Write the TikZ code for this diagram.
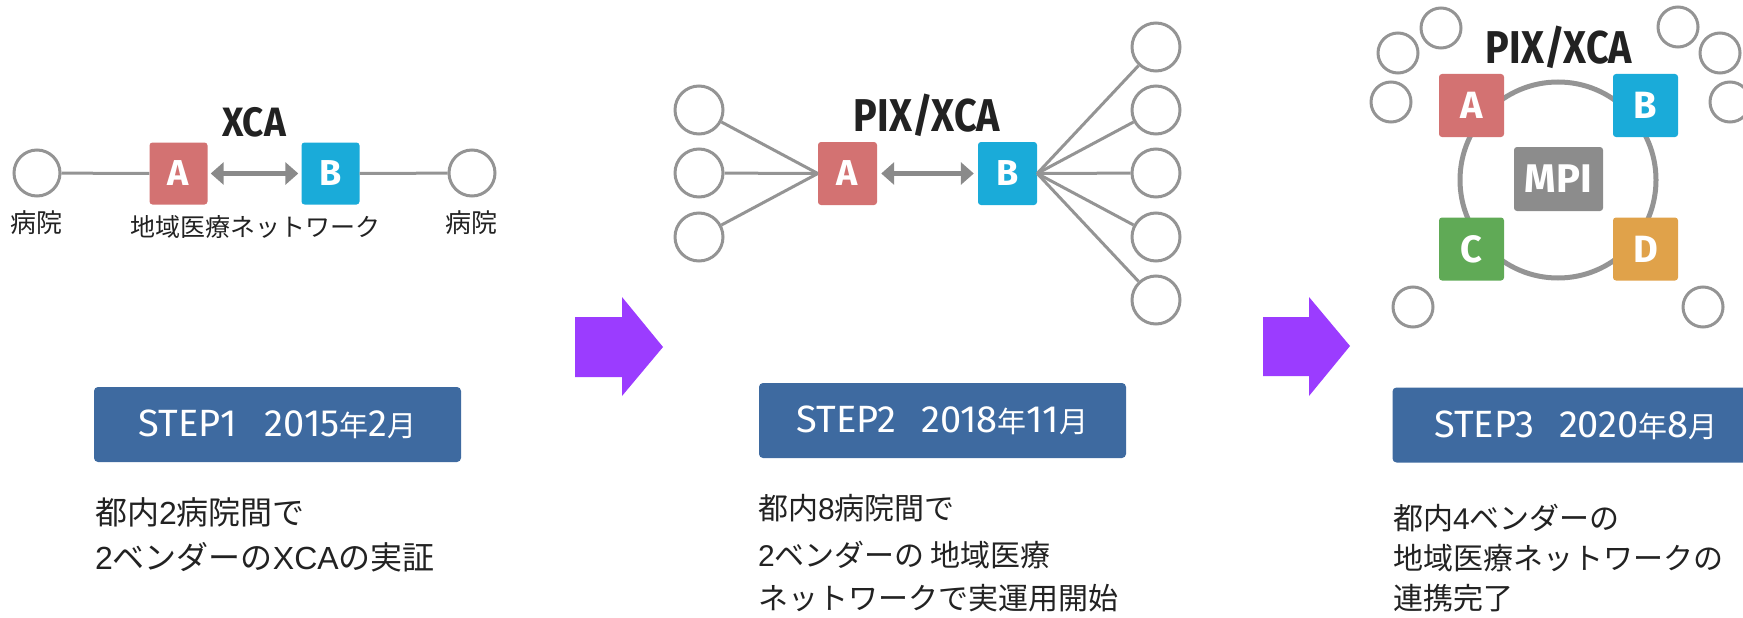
\documentclass[tikz,border=0pt]{standalone}
\usepackage{fontspec}
\setmainfont{Fira Sans}
\newfontfamily\jp{Noto Sans CJK JP}
\newfontfamily\lat{Liberation Sans}
\usetikzlibrary{arrows.meta}

\definecolor{vendA}{HTML}{D37272}
\definecolor{vendB}{HTML}{1AABD9}
\definecolor{vendC}{HTML}{60AA56}
\definecolor{vendD}{HTML}{E0A24A}
\definecolor{mpigray}{HTML}{8C8C8C}
\definecolor{stepblue}{HTML}{3E6AA0}
\definecolor{linegray}{HTML}{949494}
\definecolor{arrowgray}{HTML}{8A8A8A}
\definecolor{flowviolet}{HTML}{9B3CFF}
\definecolor{inkdark}{HTML}{222222}

\tikzset{
  vendor/.style={fill=#1, rounded corners=3pt, text=white, inner sep=0pt,
    minimum width=58pt, minimum height=62pt,
    font=\fontsize{36}{36}\selectfont\bfseries},
  hosp/.style={circle, draw=linegray, line width=3pt, fill=white, inner sep=0pt,
    minimum size=#1},
  hosp/.default=46pt,
  link/.style={draw=linegray, line width=3pt},
  xchg/.style={draw=arrowgray, line width=5pt,
    {Triangle[length=13pt,width=22pt]}-{Triangle[length=13pt,width=22pt]}},
  proto/.style={text=inkdark, inner sep=0pt, font=\fontsize{46}{46}\selectfont\bfseries},
  caption/.style={text=inkdark, inner sep=0pt, font=\jp\fontsize{25}{25}\selectfont},
  stepbox/.style={fill=stepblue, rounded corners=4pt, text=white, inner sep=0pt,
    minimum width=367pt, minimum height=75pt,
    font=\fontsize{38}{38}\selectfont},
  body/.style={text=inkdark, inner sep=0pt, anchor=west,
    font=\jp\fontsize{30}{30}\selectfont},
  flow/.style={fill=flowviolet, draw=none}
}
% kanji inside the step labels
\newcommand{\jpk}[1]{{\jp\fontsize{29}{29}\selectfont #1}}
% latin letters and digits inside the Japanese descriptions
\newcommand{\la}[1]{{\lat #1}}
% slightly condensed heading
\newcommand{\narrow}[1]{\scalebox{0.86}[1]{#1}}

\begin{document}
\begin{tikzpicture}[x=1pt, y=-1pt]
\useasboundingbox (0,0) rectangle (1743,618);
\clip (0,0) rectangle (1743,618);

% ---------- STEP 1 ----------
\node[hosp] (h1l) at (37,173) {};
\node[hosp] (h1r) at (472,173) {};
\node[vendor=vendA] (a1) at (178.5,173.5) {A};
\node[vendor=vendB] (b1) at (330.5,173.5) {B};
\draw[link] (h1l) -- (a1.west);
\draw[link] (b1.east) -- (h1r);
\draw[xchg, shorten <=3pt, shorten >=3pt] (a1.east) -- (b1.west);
\node[proto, font=\fontsize{41}{41}\selectfont\bfseries] (xca1) at (254,122) {\scalebox{0.9}[1]{XCA}};
\node[caption, font=\jp\fontsize{26}{26}\selectfont] (lbl1l) at (36,223) {病院};
\node[caption, font=\jp\fontsize{26}{26}\selectfont] (lbl1r) at (471,223) {病院};
\node[caption] (net1) at (255,227) {地域医療ネットワーク};

% ---------- STEP 2 ----------
\node[vendor=vendA, minimum width=59pt, minimum height=63pt] (a2) at (847.5,173.5) {A};
\node[vendor=vendB, minimum width=59pt, minimum height=63pt] (b2) at (1007.5,173.5) {B};
\foreach \n/\yy in {1/110, 2/173, 3/237} {
  \node[hosp=48pt] (l2\n) at (699,\yy) {};
  \draw[link] (l2\n) -- (a2.west);
}
\foreach \n/\yy in {1/47, 2/110, 3/173, 4/237, 5/300} {
  \node[hosp=48pt] (r2\n) at (1156,\yy) {};
  \draw[link] (b2.east) -- (r2\n);
}
\draw[xchg, shorten <=4pt, shorten >=4pt] (a2.east) -- (b2.west);
\node[proto] (pix2) at (927,115) {\narrow{PIX/XCA}};

% ---------- STEP 3 ----------
\node[circle, draw=linegray, line width=5pt, inner sep=0pt, minimum size=196pt] (ring) at (1558,180) {};
\foreach \n/\xx/\yy in {1/1441/28, 2/1398/53, 3/1391/102, 4/1678/27, 5/1720/53, 6/1730/102, 7/1413/307, 8/1703/307} {
  \node[hosp=40pt] (s3\n) at (\xx,\yy) {};
}
\node[vendor=vendA, minimum width=65pt, minimum height=63pt, font=\fontsize{38}{38}\selectfont\bfseries] (a3) at (1471.5,105.5) {A};
\node[vendor=vendB, minimum width=65pt, minimum height=63pt, font=\fontsize{38}{38}\selectfont\bfseries] (b3) at (1645.5,105.5) {B};
\node[vendor=vendC, minimum width=65pt, minimum height=63pt, font=\fontsize{38}{38}\selectfont\bfseries] (c3) at (1471.5,249) {C};
\node[vendor=vendD, minimum width=65pt, minimum height=63pt, font=\fontsize{38}{38}\selectfont\bfseries] (d3) at (1645.5,249) {D};
\node[vendor=mpigray, minimum width=89pt, minimum height=64pt, font=\fontsize{40}{40}\selectfont\bfseries] (mpi) at (1558.5,179) {MPI};
\node[proto] (pix3) at (1559,47) {\narrow{PIX/XCA}};

% ---------- flow arrows ----------
\fill[flow] (575,317) -- (622,317) -- (622,297) -- (663,347) -- (622,396) -- (622,377) -- (575,377) -- cycle;
\fill[flow] (1263,317) -- (1309,317) -- (1309,297) -- (1350,346) -- (1309,396) -- (1309,376) -- (1263,376) -- cycle;

% ---------- step labels ----------
\node[stepbox] (st1) at (277.5,424.5) {STEP1\hspace{0.75em}2015\jpk{年}2\jpk{月}};
\node[stepbox] (st2) at (942.5,420.5) {STEP2\hspace{0.65em}2018\jpk{年}11\jpk{月}};
\node[stepbox] (st3) at (1576,425) {STEP3\hspace{0.65em}2020\jpk{年}8\jpk{月}};

% ---------- descriptions ----------
\node[body, font=\jp\fontsize{32}{32}\selectfont] (d1a) at (95,512) {都内\la{2}病院間で};
\node[body, font=\jp\fontsize{32}{32}\selectfont] (d1b) at (95,557) {\la{2}ベンダーの\la{XCA}の実証};

\node[body] (d2a) at (758,508) {都内\la{8}病院間で};
\node[body] (d2b) at (758,555) {\la{2}ベンダーの\hspace{0.2em}地域医療};
\node[body] (d2c) at (758,598) {ネットワークで実運用開始};

\node[body] (d3a) at (1393,518) {都内\la{4}ベンダーの};
\node[body] (d3b) at (1393,558) {地域医療ネットワークの};
\node[body] (d3c) at (1393,598) {連携完了};
\end{tikzpicture}
\end{document}
